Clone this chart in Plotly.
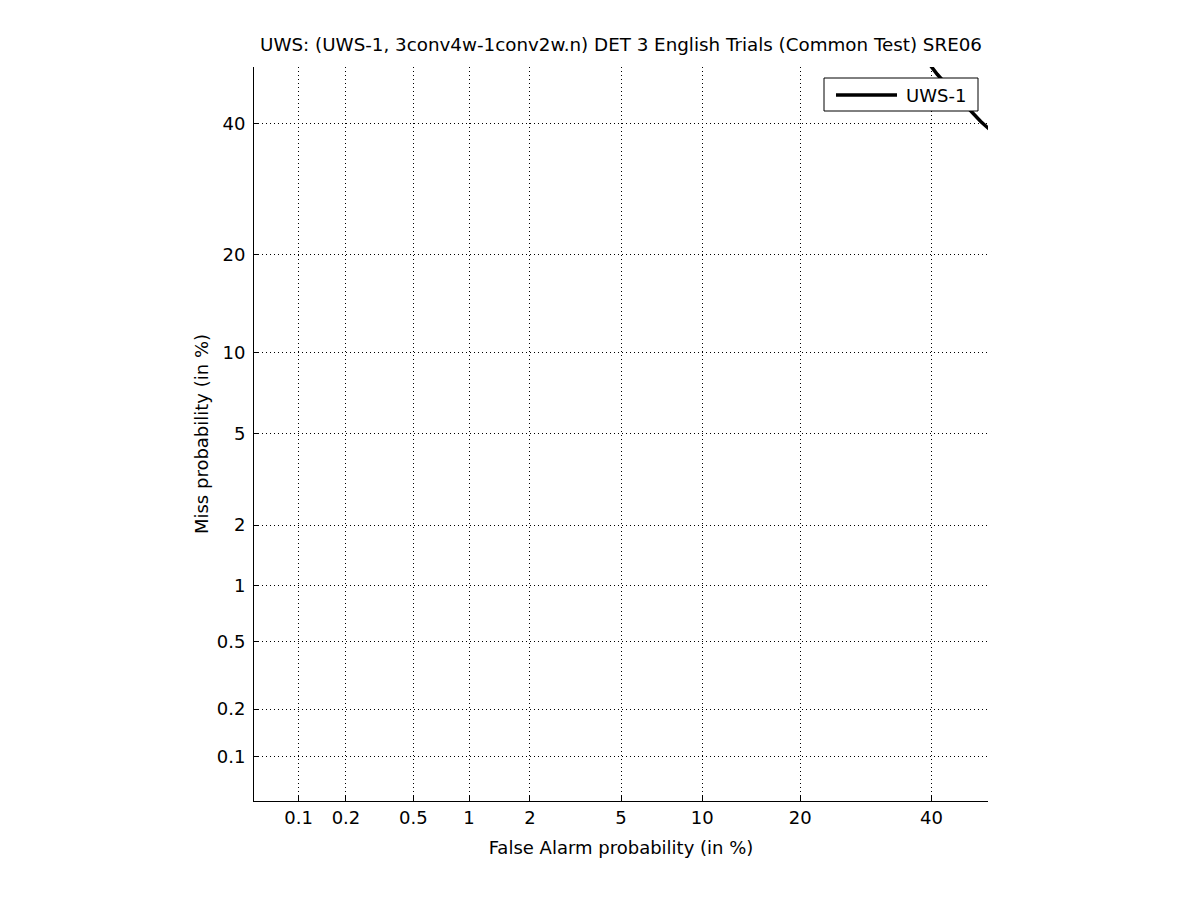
import plotly.graph_objects as go
from statistics import NormalDist

nd = NormalDist()

def probit(pct):
    return nd.inv_cdf(pct / 100.0)

# Data (percent)
false_alarm = [39.8, 41.0, 43.7, 46.9, 48.7, 50.9]
miss = [50.3, 48.7, 45.6, 42.1, 40.35, 38.45]
series_name = "UWS-1"

x_ticks = [0.1, 0.2, 0.5, 1, 2, 5, 10, 20, 40]
x_tick_labels = ["0.1", "0.2", "0.5", "1", "2", "5", "10", "20", "40"]
y_ticks = [0.1, 0.2, 0.5, 1, 2, 5, 10, 20, 40]
y_tick_labels = ["0.1", "0.2", "0.5", "1", "2", "5", "10", "20", "40"]
axis_limits = [0.05, 50]

FONT = "DejaVu Sans, Liberation Sans, Arial, sans-serif"
FS = 18

# Page has an 8px body margin; figure coordinates are page coordinates minus 8.
W, H = 1185, 884

fig = go.Figure()
fig.add_trace(go.Scatter(
    x=[probit(v) for v in false_alarm],
    y=[probit(v) for v in miss],
    mode="lines",
    name=series_name,
    line=dict(color="black", width=3.5),
    showlegend=False,
))

axis_common = dict(
    tickmode="array",
    ticks="inside",
    ticklen=5,
    tickcolor="black",
    tickwidth=1,
    showline=True,
    linecolor="black",
    linewidth=1,
    mirror=False,
    showgrid=True,
    gridcolor="black",
    gridwidth=1,
    griddash="1px,3px",
    zeroline=False,
    tickfont=dict(family=FONT, size=FS, color="black"),
    range=[probit(axis_limits[0]), probit(axis_limits[1])],
)

# Legend box drawn in paper coordinates (plot area 734x734)
def px_x(p):
    return (p - 254) / 734.0

def px_y(p):
    return (801 - p) / 734.0

shapes = [
    dict(type="rect", xref="paper", yref="paper",
         x0=px_x(824), x1=px_x(978), y0=px_y(111), y1=px_y(78),
         line=dict(color="black", width=1), fillcolor="white", layer="above"),
    dict(type="line", xref="paper", yref="paper",
         x0=px_x(836), x1=px_x(897), y0=px_y(95), y1=px_y(95),
         line=dict(color="black", width=3.5), layer="above"),
]
annotations = [
    dict(text=series_name, xref="paper", yref="paper", x=px_x(904), y=px_y(95),
         xanchor="left", yanchor="middle", showarrow=False,
         font=dict(family=FONT, size=FS, color="black")),
]

fig.update_layout(
    width=W,
    height=H,
    paper_bgcolor="white",
    plot_bgcolor="white",
    margin=dict(l=246, r=W - 980, t=59, b=H - 793),
    title=dict(
        text="UWS: (UWS-1, 3conv4w-1conv2w.n) DET 3 English Trials (Common Test) SRE06",
        x=(621 - 8) / W, xanchor="center", y=1 - 37 / H, yanchor="middle",
        font=dict(family=FONT, size=18.3, color="black"),
    ),
    xaxis=dict(
        **axis_common,
        tickvals=[probit(v) for v in x_ticks],
        ticktext=x_tick_labels,
        title=dict(text="False Alarm probability (in %)", font=dict(family=FONT, size=FS, color="black"), standoff=14),
    ),
    yaxis=dict(
        **axis_common,
        tickvals=[probit(v) for v in y_ticks],
        ticktext=y_tick_labels,
        ticklabelstandoff=4,
        title=dict(text="Miss probability (in %)", font=dict(family=FONT, size=FS, color="black"), standoff=3),
    ),
    showlegend=False,
    shapes=shapes,
    annotations=annotations,
)

fig.write_html("out.html")
